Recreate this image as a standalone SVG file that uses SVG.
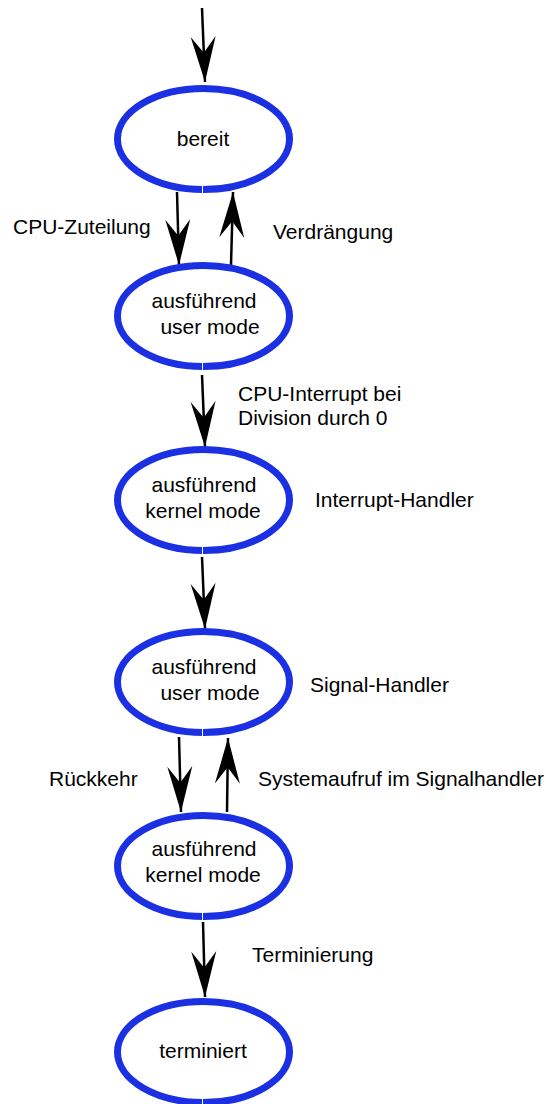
<svg xmlns="http://www.w3.org/2000/svg" width="546" height="1104" viewBox="0 0 546 1104">
<style>
  .node ellipse { fill: #ffffff; stroke: #1b30e2; stroke-width: 7; }
  .node line { stroke: #ffffff; stroke-width: 1; }
  text { font-family: "Liberation Sans", Arial, sans-serif; font-size: 21px; fill: #000000; }
  .c { text-anchor: middle; }
  .edge { stroke: #000000; stroke-width: 2.5; fill: none; marker-end: url(#arr); }
</style>
<defs>
  <marker id="arr" markerUnits="userSpaceOnUse" markerWidth="50" markerHeight="30" viewBox="-44 -13 46 26" refX="0" refY="0" orient="auto">
    <path d="M0,0 L-42,-11.5 L-27,0 L-42,11.5 Z" fill="#000000"/>
  </marker>
</defs>
<rect width="546" height="1104" fill="#ffffff"/>
<g id="connectors">
  <line class="edge" x1="202" y1="8" x2="205" y2="82"/>
  <line class="edge" x1="177" y1="192" x2="179" y2="265"/>
  <line class="edge" x1="231" y1="265" x2="233" y2="192"/>
  <line class="edge" x1="202" y1="375" x2="205" y2="447"/>
  <line class="edge" x1="202" y1="557" x2="205" y2="629"/>
  <line class="edge" x1="179" y1="737" x2="181" y2="812"/>
  <line class="edge" x1="227" y1="812" x2="228" y2="738"/>
  <line class="edge" x1="203" y1="922" x2="205" y2="997"/>
</g>
<g id="labels">
  <text x="13" y="234">CPU-Zuteilung</text>
  <text x="273" y="239">Verdrängung</text>
  <text x="238" y="401">CPU-Interrupt bei</text>
  <text x="238" y="425">Division durch 0</text>
  <text x="315" y="507">Interrupt-Handler</text>
  <text x="310" y="692">Signal-Handler</text>
  <text x="49" y="786">Rückkehr</text>
  <text x="258" y="786">Systemaufruf im Signalhandler</text>
  <text x="252" y="962">Terminierung</text>
</g>
<g id="n-bereit" class="node">
  <ellipse cx="203.5" cy="139" rx="86" ry="50.5"/>
  <line x1="202.5" y1="185" x2="202.5" y2="194"/>
  <text class="c" x="203" y="146">bereit</text>
</g>
<g id="n-user1" class="node">
  <ellipse cx="203.5" cy="316" rx="86" ry="50.5"/>
  <line x1="202.5" y1="362" x2="202.5" y2="371"/>
  <text class="c" x="204" y="308">ausführend</text>
  <text class="c" x="210" y="334">user mode</text>
</g>
<g id="n-kernel1" class="node">
  <ellipse cx="203.5" cy="500" rx="86" ry="50.5"/>
  <line x1="202.5" y1="546" x2="202.5" y2="555"/>
  <text class="c" x="204" y="492">ausführend</text>
  <text class="c" x="203" y="518">kernel mode</text>
</g>
<g id="n-user2" class="node">
  <ellipse cx="203.5" cy="682" rx="86" ry="50.5"/>
  <line x1="202.5" y1="728" x2="202.5" y2="737"/>
  <text class="c" x="204" y="674">ausführend</text>
  <text class="c" x="210" y="700">user mode</text>
</g>
<g id="n-kernel2" class="node">
  <ellipse cx="203.5" cy="866" rx="86" ry="50.5"/>
  <line x1="202.5" y1="912" x2="202.5" y2="921"/>
  <text class="c" x="204" y="856">ausführend</text>
  <text class="c" x="203" y="882">kernel mode</text>
</g>
<g id="n-terminiert" class="node">
  <ellipse cx="203.5" cy="1052" rx="86" ry="50.5"/>
  <line x1="202.5" y1="1098" x2="202.5" y2="1104"/>
  <text class="c" x="203" y="1058">terminiert</text>
</g>
</svg>
